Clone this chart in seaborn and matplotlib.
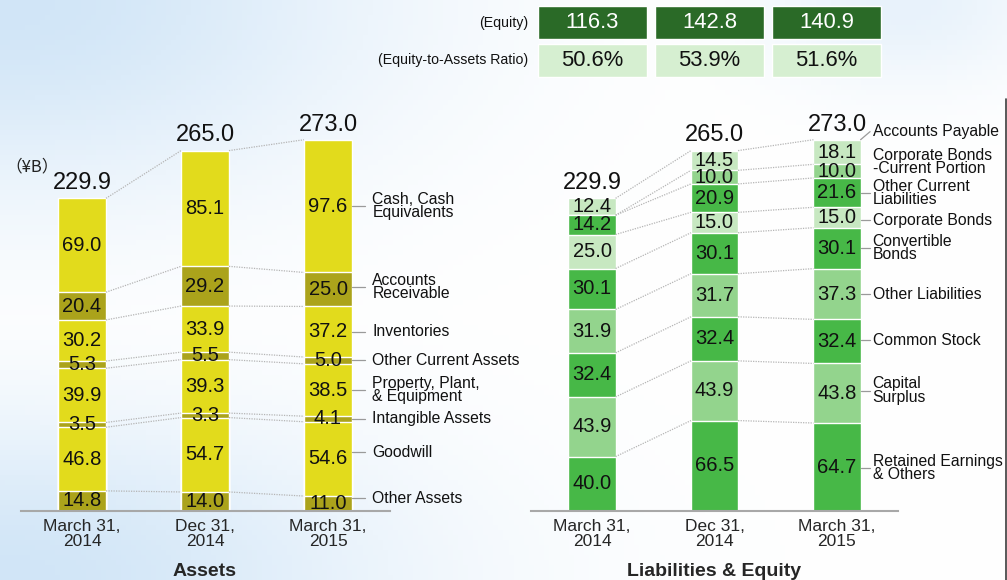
import numpy as np
import pandas as pd
import matplotlib
matplotlib.use("Agg")
import matplotlib.pyplot as plt
import seaborn as sns
from matplotlib.lines import Line2D

# Data (¥B), segments listed bottom -> top
dates = ["March 31,\n2014", "Dec 31,\n2014", "March 31,\n2015"]
totals = [229.9, 265.0, 273.0]

asset_items = ["Other Assets", "Goodwill", "Intangible Assets", "Property, Plant,\n& Equipment",
               "Other Current Assets", "Inventories", "Accounts\nReceivable", "Cash, Cash\nEquivalents"]
assets_mar14 = [14.8, 46.8, 3.5, 39.9, 5.3, 30.2, 20.4, 69.0]
assets_dec14 = [14.0, 54.7, 3.3, 39.3, 5.5, 33.9, 29.2, 85.1]
assets_mar15 = [11.0, 54.6, 4.1, 38.5, 5.0, 37.2, 25.0, 97.6]

liab_items = ["Retained Earnings\n& Others", "Capital\nSurplus", "Common Stock", "Other Liabilities",
              "Convertible\nBonds", "Corporate Bonds", "Other Current\nLiabilities",
              "Corporate Bonds\n-Current Portion", "Accounts Payable"]
liab_mar14 = [40.0, 43.9, 32.4, 31.9, 30.1, 25.0, 14.2, 0.0, 12.4]
liab_dec14 = [66.5, 43.9, 32.4, 31.7, 30.1, 15.0, 20.9, 10.0, 14.5]
liab_mar15 = [64.7, 43.8, 32.4, 37.3, 30.1, 15.0, 21.6, 10.0, 18.1]

equity = [116.3, 142.8, 140.9]
equity_ratio = ["50.6%", "53.9%", "51.6%"]

# styling
YEL, OLV = "#e2db1c", "#aba31b"
asset_colors = [OLV, YEL, OLV, YEL, OLV, YEL, OLV, YEL]
DG, MG, PG = "#47b847", "#93d48d", "#c7e8c1"
liab_colors = [DG, MG, DG, MG, DG, PG, DG, MG, PG]
asset_label_off = [4, 5, 0, 0, 0, 0, 2, 0]
liab_label_off = [-1, 2, 1, 0, 0, -2, 0, 7, 15]
liab_ticks = [True, True, True, True, True, True, True, False, True]

sns.set_theme(style="white")
plt.rcParams["font.family"] = ["Liberation Sans", "DejaVu Sans"]

fig = plt.figure(figsize=(10.07, 5.8), dpi=100)

# soft slide background
bg = fig.add_axes([0, 0, 1, 1])
yy, xx = np.mgrid[0:1:116j, 0:1:200j]
tint = np.maximum(np.exp(-((xx / 0.4) ** 2 + ((1 - yy) / 0.28) ** 2)),
                  np.exp(-((xx / 0.38) ** 2 + (yy / 0.34) ** 2)))
tint = np.maximum(tint, 0.5 * np.exp(-(((xx - 0.9) / 0.15) ** 2 + (yy / 0.15) ** 2)))
base = np.array([1.0, 1.0, 1.0])
blue = np.array([0.82, 0.9, 0.97])
img = base[None, None, :] * (1 - tint[..., None]) + blue[None, None, :] * tint[..., None]
bg.imshow(img, aspect="auto", extent=[0, 1, 0, 1])
bg.axis("off")


def stacked(ax, series, colors, items, offs, ticks, width, tick_end, text_x):
    vals = np.array(series)  # dates x segments
    cum = vals.cumsum(axis=1)
    n = vals.shape[1]
    # draw cumulative bars from the top layer downwards
    for k in range(n - 1, -1, -1):
        sns.barplot(x=list(range(len(dates))), y=cum[:, k], color=colors[k], saturation=1,
                    width=width, edgecolor="white", linewidth=1, ax=ax, errorbar=None,
                    native_scale=True)
    for i in range(len(dates)):
        for k in range(n):
            v = vals[i, k]
            if v > 0:
                ax.text(i, cum[i, k] - v / 2, f"{v:.1f}", ha="center", va="center",
                        fontsize=14.5, color="#111111", zorder=5)
        ax.annotate(f"{totals[i]:.1f}", (i, cum[i, -1]), xytext=(0, 3),
                    textcoords="offset points", ha="center", va="bottom", fontsize=17,
                    color="#111111")
    # dotted connectors between bars
    for i in range(len(dates) - 1):
        for k in range(n):
            ax.plot([i + width / 2, i + 1 - width / 2], [cum[i, k], cum[i + 1, k]],
                    ls=(0, (1, 1)), color="#b5b5b5", lw=0.9, zorder=3)
    # category labels right of last bar
    last = len(dates) - 1
    for k in range(n):
        top = cum[last, k]
        bot = top - vals[last, k]
        mid = (top + bot) / 2
        ly = mid + offs[k]
        if ticks[k]:
            sy = min(max(ly, bot), top)
            ax.plot([last + width / 2, tick_end], [sy, ly], color="#9a9a9a", lw=0.9,
                    clip_on=False)
        ax.text(text_x, ly, items[k], ha="left", va="center", fontsize=11.3,
                linespacing=0.85, color="#111111")
    ax.set_xlim(-0.5, 2.5)
    ax.set_ylim(0, 300)
    ax.set_facecolor("none")
    ax.set_yticks([])
    ax.set_xticks(range(len(dates)))
    ax.set_xticklabels(dates, fontsize=12.5, linespacing=0.95)
    ax.tick_params(axis="x", length=0, pad=6)
    for s in ["top", "left", "right"]:
        ax.spines[s].set_visible(False)
    ax.spines["bottom"].set_color("#a8a8a8")
    ax.spines["bottom"].set_linewidth(1.5)
    ax.set_ylabel("")


ax1 = fig.add_axes([20.5 / 1007, 69 / 580, 369 / 1007, 408 / 580])
stacked(ax1, [assets_mar14, assets_dec14, assets_mar15], asset_colors, asset_items,
        asset_label_off, [True] * 8, 0.39, 2.3, 2.36)
ax1.set_xlabel("Assets", fontsize=14, fontweight="bold", labelpad=10.5)
ax1.text(-0.62, 253, "（¥B）", fontsize=12, ha="left", va="center", color="#222222",
         family=["Noto Sans CJK JP", "DejaVu Sans"])

ax2 = fig.add_axes([530.75 / 1007, 69 / 580, 367.5 / 1007, 408 / 580])
stacked(ax2, [liab_mar14, liab_dec14, liab_mar15], liab_colors, liab_items,
        liab_label_off, liab_ticks, 0.385, 2.27, 2.29)
ax2.set_xlabel("Liabilities & Equity", fontsize=14, fontweight="bold", labelpad=10.5)

# equity table on top
axt = fig.add_axes([534 / 1007, 1 - 80 / 580, 351 / 1007, 77 / 580])
cols = np.arange(len(equity))
axt.bar(cols, 0.857, bottom=1.065, width=0.93, color="#2a6a27")
axt.bar(cols, 0.857, bottom=0.078, width=0.93, color="#d6efd1")
for i in cols:
    axt.text(i, 1.49, f"{equity[i]:.1f}", ha="center", va="center", fontsize=15.8, color="white")
    axt.text(i, 0.51, equity_ratio[i], ha="center", va="center", fontsize=15.8, color="#111111")
axt.text(-0.55, 1.49, "(Equity)", ha="right", va="center", fontsize=10.2, color="#111111")
axt.text(-0.55, 0.51, "(Equity-to-Assets Ratio)", ha="right", va="center", fontsize=10.2,
         color="#111111")
axt.set_xlim(-0.5, 2.5)
axt.set_ylim(0, 2)
axt.axis("off")

fig.add_artist(Line2D([0.9992, 0.9992], [0, 0.83], color="#3c3c3c", lw=1.2,
                      transform=fig.transFigure))

fig.savefig("out.png", dpi=100)
